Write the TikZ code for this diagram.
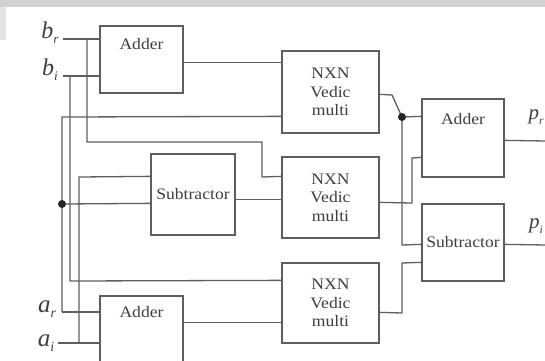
\documentclass[tikz,border=0pt]{standalone}
\usepackage{fontspec}
\setmainfont{Liberation Serif}
\newfontfamily\boxfont[FakeStretch=1.1]{Liberation Serif}
\newfontfamily\lblfont{Liberation Serif}
\usetikzlibrary{calc}
\definecolor{linec}{HTML}{5E5E5E}
\definecolor{txtc}{HTML}{3E3E3E}
\definecolor{bandc}{HTML}{D2D2D2}
\newcommand\sigl[3]{{\lblfont\fontsize{#3}{#3}\selectfont\itshape #1\raisebox{-0.22em}{\fontsize{0.55em}{0.55em}\selectfont #2}}}
\begin{document}
\begin{tikzpicture}[x=1pt,y=-1pt,
  blk/.style={draw=linec,line width=1.3pt,inner sep=0pt,fill=white},
  btxt/.style={inner sep=0pt,text=txtc,font=\boxfont\fontsize{16}{18.5}\selectfont,align=center},
  wire/.style={draw=linec,line width=1.3pt},
  sig/.style={inner sep=0pt,text=txtc},
  jdot/.style={circle,fill=black!85,inner sep=0pt,minimum size=8pt}]
\useasboundingbox (0,0) rectangle (545,360);
\clip (0,0) rectangle (545,360);
\fill[bandc] (0,0) rectangle (545,7);
\fill[bandc!60] (0,7) rectangle (6,40);
% blocks
\node[blk,minimum width=83pt,minimum height=67pt] (addT) at (141.5,59.5) {};
\node[blk,minimum width=84pt,minimum height=81pt] (sub1) at (193,194.5) {};
\node[blk,minimum width=83pt,minimum height=76pt] (addB) at (141.5,334) {};
\node[blk,minimum width=97pt,minimum height=82pt] (m1) at (330.5,92) {};
\node[blk,minimum width=97pt,minimum height=81pt] (m2) at (330.5,197.5) {};
\node[blk,minimum width=97pt,minimum height=80pt] (m3) at (330.5,303) {};
\node[blk,minimum width=82pt,minimum height=78pt] (addR) at (463,138) {};
\node[blk,minimum width=82pt,minimum height=77pt] (subR) at (463,242.5) {};
% block texts
\node[btxt] (addTt) at ([yshift=-19pt]addT.north) {Adder};
\node[btxt] (sub1t) at (sub1.center) {Subtractor};
\node[btxt] (addBt) at ([yshift=-17pt]addB.north) {Adder};
\node[btxt] (m1t) at (m1.center) {NXN\\Vedic\\multi};
\node[btxt] (m2t) at (m2.center) {NXN\\Vedic\\multi};
\node[btxt] (m3t) at (m3.center) {NXN\\Vedic\\multi};
\node[btxt] (addRt) at ([yshift=-21pt]addR.north) {Adder};
\node[btxt] (subRt) at (subR.center) {Subtractor};
% signal labels
\node[sig] (brl) at (50,33) {\sigl{b}{r}{24}};
\node[sig] (bil) at (50,70) {\sigl{b}{i}{24}};
\node[sig] (arl) at (47,309) {\sigl{a}{r}{25}};
\node[sig] (ail) at (46,343) {\sigl{a}{i}{25}};
\node[sig] (prl) at (536,117) {\sigl{p}{r}{21}};
\node[sig] (pil) at (536,226) {\sigl{p}{i}{21}};
% ports
\coordinate (br0) at (63,39);
\coordinate (bi0) at (63,76);
\coordinate (ar0) at (62,312);
\coordinate (ai0) at (58,343);
\coordinate (addTo) at ($(addT.north east)+(0,37)$);
\coordinate (addBo) at ($(addB.north east)+(0,27)$);
\coordinate (sub1i1) at ($(sub1.north west)+(0,23)$);
\coordinate (sub1i2) at ($(sub1.north west)+(0,50)$);
\coordinate (sub1o) at ($(sub1.north east)+(0,46)$);
\coordinate (m1i1) at ($(m1.north west)+(0,12)$);
\coordinate (m1i2) at ($(m1.north west)+(0,66)$);
\coordinate (m1o) at ($(m1.north east)+(0,44)$);
\coordinate (m2i1) at ($(m2.north west)+(0,20)$);
\coordinate (m2i2) at ($(m2.north west)+(0,43)$);
\coordinate (m2o) at ($(m2.north east)+(0,46)$);
\coordinate (m3i1) at ($(m3.north west)+(0,18)$);
\coordinate (m3i2) at ($(m3.north west)+(0,60)$);
\coordinate (m3o) at ($(m3.north east)+(0,50)$);
\coordinate (addRi1) at ($(addR.north west)+(0,18)$);
\coordinate (addRi2) at ($(addR.north west)+(0,59)$);
\coordinate (addRo) at ($(addR.north east)+(0,42)$);
\coordinate (subRi1) at ($(subR.north west)+(0,41)$);
\coordinate (subRi2) at ($(subR.north west)+(0,59)$);
\coordinate (subRo) at ($(subR.north east)+(0,41)$);
\coordinate (prend) at (546,141);
\coordinate (piend) at (546,245);
\coordinate (dotL) at (62,204);
\coordinate (dotR) at (402,117);
% input wires
\draw[wire] (br0) -- (br0 -| addT.west);
\draw[wire] (bi0) -- (bi0 -| addT.west);
\draw[wire] (ar0) -- (ar0 -| addB.west);
\draw[wire] (ai0) -- (ai0 -| addB.west);
\draw[wire] (87,39) -- (87,142) -- (262,142) -- (262,177) -- (m2i1);
\draw[wire] (70,76) -- (70,281) -- (m3i1);
\draw[wire] (ar0) -- (62,117) -- (m1i2);
\draw[wire] (dotL) -- (sub1i2);
\draw[wire] (79,343) -- (79,177) -- (sub1i1);
% block-to-block wires
\draw[wire] (addTo) -- (m1i1);
\draw[wire] (sub1o) -- (m2i2);
\draw[wire] (addBo) -- (m3i2);
\draw[wire] (m1o) -- (392,95) -- (dotR) -- (addRi1);
\draw[wire] (dotR) -- (402,245) -- (subRi1);
\draw[wire] (m2o) -- (412,203) -- (412,158) -- (addRi2);
\draw[wire] (m3o) -- (402,313) -- (402,263) -- (subRi2);
\draw[wire] (addRo) -- (prend);
\draw[wire] (subRo) -- (piend);
% junction dots
\node[jdot] (jL) at (dotL) {};
\node[jdot] (jR) at (dotR) {};
\end{tikzpicture}
\end{document}
